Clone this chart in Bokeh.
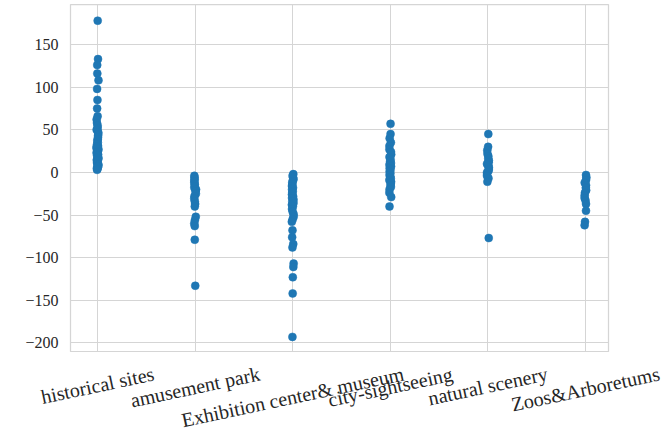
from bokeh.plotting import figure
from bokeh.layouts import column
from bokeh.models import ColumnDataSource, FixedTicker, Range1d
from bokeh.transform import jitter
from bokeh.embed import file_html
from bokeh.resources import INLINE

categories = ["historical sites", "amusement park", "Exhibition center& museum",
              "city-sightseeing", "natural scenery", "Zoos&Arboretums"]

historical_sites = [178, 133, 126, 116, 108, 98, 85, 75, 66, 62, 58, 55, 52, 50, 47, 45, 43,
                    41, 39, 37, 35, 33, 31, 30, 28, 27, 25, 24, 23, 22, 21, 20, 19, 18, 17,
                    16, 15, 14, 13, 12, 11, 10, 9, 8, 7, 6, 5, 4, 3]
amusement_park = [-4, -6, -8, -10, -12, -14, -16, -18, -20, -22, -25, -28, -31, -34, -37,
                  -40, -52, -56, -60, -63, -79, -133]
exhibition_museum = [-2, -4, -6, -8, -10, -12, -14, -16, -18, -20, -22, -24, -26, -28, -30,
                     -32, -34, -36, -38, -40, -43, -46, -49, -52, -55, -58, -68, -76, -84,
                     -88, -107, -111, -123, -142, -193]
city_sightseeing = [57, 45, 40, 35, 31, 27, 24, 21, 18, 15, 13, 11, 9, 7, 5, 3, 1, -1, -3,
                    -5, -7, -9, -11, -13, -15, -17, -20, -24, -29, -40]
natural_scenery = [45, 30, 26, 22, 19, 16, 14, 12, 10, 8, 6, 4, 2, 0, -2, -4, -7, -11, -77]
zoos_arboretums = [-3, -6, -9, -12, -15, -18, -21, -24, -27, -30, -33, -37, -45, -58, -62]

y_ticks = [-200, -150, -100, -50, 0, 50, 100, 150]

series = [historical_sites, amusement_park, exhibition_museum,
          city_sightseeing, natural_scenery, zoos_arboretums]

xs, ys = [], []
for i, vals in enumerate(series):
    xs += [i] * len(vals)
    ys += vals
source = ColumnDataSource(dict(x=xs, y=ys))

FONT = "Liberation Serif"
GRID = "#d5d5d5"
TEXT = "#262626"

# ---- main strip plot -------------------------------------------------------
p = figure(frame_width=538, frame_height=348, output_backend="svg", toolbar_location=None,
           x_range=Range1d(-0.277, 5.236), y_range=Range1d(-211.3, 197.0),
           x_axis_location=None, frame_align=False,
           min_border_left=70, min_border_right=63, min_border_top=4, min_border_bottom=0)

p.scatter(x=jitter("x", width=0.02), y="y", source=source, size=8,
          fill_color="#1f77b4", line_color="#1f77b4", line_width=0.5)

p.xgrid.ticker = FixedTicker(ticks=list(range(len(categories))))

p.yaxis.ticker = FixedTicker(ticks=y_ticks)
p.yaxis.major_label_overrides = {t: str(t).replace("-", "\u2212") for t in y_ticks}
p.yaxis.axis_line_color = None
p.yaxis.major_tick_line_color = None
p.yaxis.minor_tick_line_color = None
p.yaxis.major_tick_out = 0
p.yaxis.major_label_standoff = 12
p.yaxis.major_label_text_font = FONT
p.yaxis.major_label_text_font_size = "16px"
p.yaxis.major_label_text_color = TEXT

p.xgrid.grid_line_color = GRID
p.ygrid.grid_line_color = GRID
p.outline_line_color = GRID
p.outline_line_width = 1.25

# ---- rotated category labels (strip below, same x scale) ------------------
PX = 538 / (5.236 + 0.277)          # pixels per category unit
x0 = -0.277 - 70 / PX
x1 = 5.236 + 63 / PX
label_drop = [32.8, 34.5, 44.4, 34.4, 33.4, 36.5]   # px below the frame

lab = figure(frame_width=671, frame_height=94, output_backend="svg", toolbar_location=None,
             x_range=Range1d(x0, x1), y_range=Range1d(94, 0),
             x_axis_location=None, y_axis_location=None, frame_align=False,
             min_border_left=0, min_border_right=0, min_border_top=0, min_border_bottom=0)
lab.outline_line_color = None
lab.xgrid.visible = False
lab.ygrid.visible = False
lab.text(x=list(range(len(categories))), y=label_drop, text=categories,
         text_font="Liberation Serif", text_font_size="20px", text_color=TEXT,
         text_align="center", text_baseline="middle", angle=12, angle_units="deg")

layout = column(p, lab, spacing=0)
open("out.html", "w").write(file_html(layout, INLINE))
